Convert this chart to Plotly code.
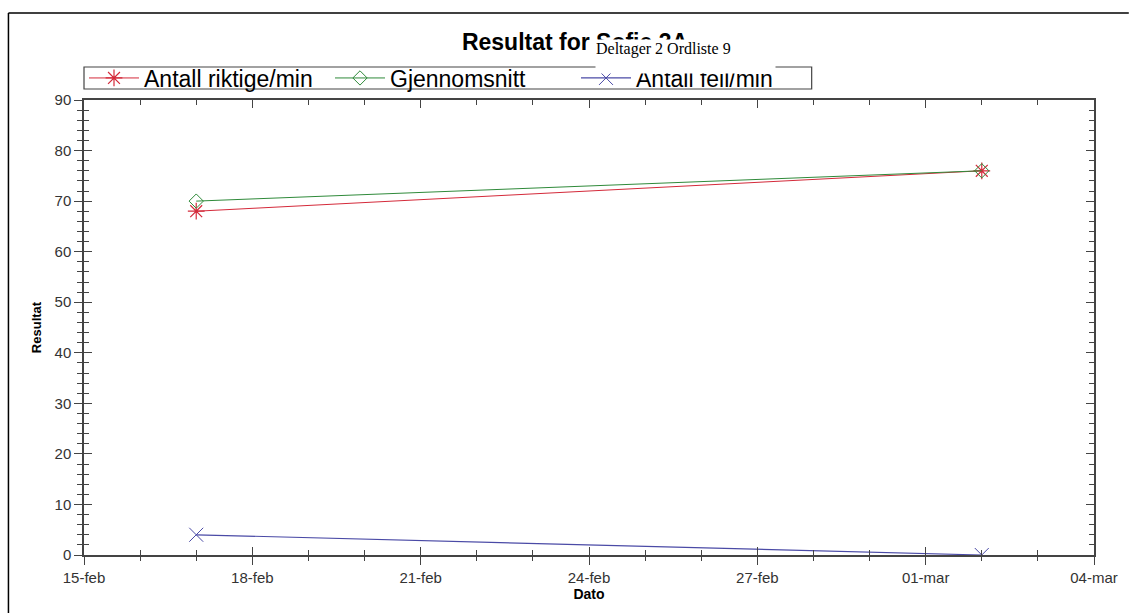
import plotly.graph_objects as go

# ---- data ----
dates = ["2016-02-17", "2016-03-02"]
riktige = [68, 76]
gjennomsnitt = [70, 76]
feil = [4, 0]

tick_dates = ["2016-02-15", "2016-02-18", "2016-02-21", "2016-02-24",
              "2016-02-27", "2016-03-01", "2016-03-04"]
tick_labels = ["15-feb", "18-feb", "21-feb", "24-feb", "27-feb", "01-mar", "04-mar"]

x_range = ["2016-02-15", "2016-03-04"]
y_range = [0, 90]

title_text = "Resultat for Sofie 3A"
subtitle_text = "Deltager 2 Ordliste 9"

# ---- figure ----
W, H = 1130, 613
ML, MR, MT, MB = 84, 30, 100, 58
PW, PH = W - ML - MR, H - MT - MB


def px_x(px):
    return (px - ML) / PW


def px_y(py):
    return (H - MB - py) / PH


fig = go.Figure()

fig.add_trace(go.Scatter(
    x=dates, y=riktige, name="Antall riktige/min", mode="lines+markers",
    line=dict(color="#d42a3a", width=1),
    marker=dict(symbol="asterisk-open", size=14, line=dict(color="#d42a3a", width=1.2)),
))
fig.add_trace(go.Scatter(
    x=dates, y=gjennomsnitt, name="Gjennomsnitt", mode="lines+markers",
    line=dict(color="#2f8a3a", width=1),
    marker=dict(symbol="diamond-open", size=11, line=dict(color="#2f8a3a", width=1)),
))
fig.add_trace(go.Scatter(
    x=dates, y=feil, name="Antall feil/min", mode="lines+markers",
    line=dict(color="#4a4aa6", width=1.2),
    marker=dict(symbol="x-thin-open", size=14, line=dict(color="#4a4aa6", width=1)),
))
# empty trace to activate overlay axes (inside ticks)
fig.add_trace(go.Scatter(x=[], y=[], xaxis="x2", yaxis="y2", showlegend=False,
                         hoverinfo="skip"))

axis_font = dict(family="Liberation Sans, Arial", size=15, color="#333333")
day_ms = 86400000

common_x = dict(
    type="date", range=x_range, tickvals=tick_dates, ticktext=tick_labels,
    showgrid=False, zeroline=False,
)
common_y = dict(range=y_range, dtick=10, tick0=0, showgrid=False, zeroline=False)

fig.update_layout(
    width=W, height=H,
    margin=dict(l=ML, r=MR, t=MT, b=MB),
    paper_bgcolor="white", plot_bgcolor="white",
    showlegend=True,
    title=dict(text="<b>" + title_text + "</b>", x=575 / W, xref="container",
               xanchor="center", y=1 - 42 / H, yref="container", yanchor="middle",
               font=dict(family="Liberation Sans, Arial", size=23, color="black")),
    xaxis=dict(
        **common_x,
        showline=True, linecolor="#444444", linewidth=1.5, mirror=True,
        ticks="outside", ticklen=8, tickwidth=1.2, tickcolor="#444444",
        minor=dict(dtick=day_ms, ticks="outside", ticklen=4, tickcolor="#444444",
                   tickwidth=1, showgrid=False),
        tickfont=axis_font,
        title=dict(text="<b>Dato</b>", font=dict(family="Liberation Sans, Arial",
                                                  size=14, color="black"), standoff=4),
    ),
    yaxis=dict(
        **common_y,
        showline=True, linecolor="#444444", linewidth=1.5, mirror=True,
        ticks="outside", ticklen=8, tickwidth=1.2, tickcolor="#444444",
        minor=dict(dtick=2, ticks="outside", ticklen=5, tickcolor="#444444",
                   tickwidth=1, showgrid=False),
        tickfont=axis_font,
        title=dict(text="<b>Resultat</b>", font=dict(family="Liberation Sans, Arial",
                                                      size=13, color="black"), standoff=10),
    ),
    xaxis2=dict(
        **common_x, overlaying="x", anchor="y", side="bottom",
        showline=False, showticklabels=False, mirror="allticks",
        ticks="inside", ticklen=8, tickwidth=1.2, tickcolor="#444444",
        minor=dict(dtick=day_ms, ticks="inside", ticklen=5, tickcolor="#444444",
                   tickwidth=1, showgrid=False),
    ),
    yaxis2=dict(
        **common_y, overlaying="y", anchor="x", side="left",
        showline=False, showticklabels=False, mirror="allticks",
        ticks="inside", ticklen=8, tickwidth=1.2, tickcolor="#444444",
        minor=dict(dtick=2, ticks="inside", ticklen=5, tickcolor="#444444",
                   tickwidth=1, showgrid=False),
    ),
    legend=dict(
        orientation="h", x=0, xanchor="left", y=px_y(78), yanchor="middle",
        borderwidth=0, bgcolor="rgba(0,0,0,0)",
        font=dict(family="Liberation Sans, Arial", size=23, color="black"),
        itemwidth=50, entrywidth=181, entrywidthmode="pixels",
        tracegroupgap=0,
    ),
    shapes=[
        # outer frame
        dict(type="line", xref="paper", yref="paper", x0=px_x(8), x1=px_x(W + 5),
             y0=px_y(13), y1=px_y(13), line=dict(color="black", width=1.5)),
        dict(type="line", xref="paper", yref="paper", x0=px_x(8), x1=px_x(8),
             y0=px_y(13), y1=px_y(H + 5), line=dict(color="black", width=1.5)),
        # legend box
        dict(type="rect", xref="paper", yref="paper", x0=px_x(84), x1=px_x(816),
             y0=px_y(89), y1=px_y(67), line=dict(color="#444444", width=1.2),
             fillcolor="white", layer="below"),
    ],
    annotations=[
        dict(text=subtitle_text, xref="paper", yref="paper",
             x=px_x(598), xanchor="left", y=px_y(39), yanchor="top",
             showarrow=False, bgcolor="white", width=179, height=33,
             align="left", valign="top", borderpad=0,
             font=dict(family="Liberation Serif, Times New Roman", size=16, color="black")),
    ],
)

fig.write_html("out.html")
